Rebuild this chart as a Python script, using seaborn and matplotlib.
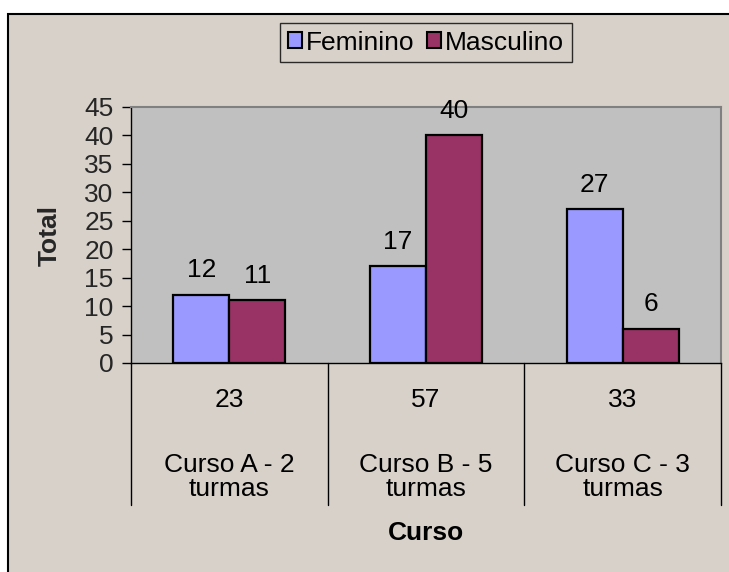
import pandas as pd
import matplotlib.pyplot as plt
import matplotlib.patches as mpatches
import seaborn as sns

cursos = ["Curso A - 2\nturmas", "Curso B - 5\nturmas", "Curso C - 3\nturmas"]
feminino = [12, 17, 27]
masculino = [11, 40, 6]
series = ["Feminino", "Masculino"]
cores = {"Feminino": "#9999FF", "Masculino": "#993366"}

totais = [f + m for f, m in zip(feminino, masculino)]

data = pd.DataFrame({
    "Curso": cursos * 2,
    "Sexo": ["Feminino"] * len(cursos) + ["Masculino"] * len(cursos),
    "Total": feminino + masculino,
})

sns.set_style("ticks")
plt.rcParams['font.family'] = ['Liberation Sans', 'DejaVu Sans']
plt.rcParams['text.color'] = 'black'

fs = 19
fundo = "#D8D1CA"
fig = plt.figure(figsize=(7.29, 5.72), dpi=100, facecolor="white")
fig.add_artist(mpatches.Rectangle((8 / 729, -0.05), 1.0, (1 - 14 / 572) + 0.05,
                                  transform=fig.transFigure, facecolor=fundo,
                                  edgecolor="black", linewidth=1.5, zorder=-1))

ax = fig.add_axes([131 / 729, 1 - 363 / 572, 590 / 729, 256 / 572])
ax.set_facecolor("#C0C0C0")

sns.barplot(data=data, x="Curso", y="Total", hue="Sexo", order=cursos,
            hue_order=series, palette=cores, width=0.57, saturation=1,
            edgecolor="black", linewidth=1.6, ax=ax, legend=False)

for cont in ax.containers:
    ax.bar_label(cont, fmt="%d", padding=9, fontsize=fs)

ax.set_ylim(0, 45)
ax.set_yticks(range(0, 46, 5))
ax.set_xlim(-0.5, len(cursos) - 0.5)
ax.tick_params(axis="y", direction="out", length=6.5, width=1, color="black",
               labelsize=fs, pad=6)
ax.tick_params(axis="x", length=0, labelbottom=False)

for lado in ["left", "bottom"]:
    ax.spines[lado].set_color("black")
    ax.spines[lado].set_linewidth(1.0)
for lado in ["top", "right"]:
    ax.spines[lado].set_color("#808080")
    ax.spines[lado].set_linewidth(1.5)

# tabela de categorias abaixo do eixo
trans = ax.get_xaxis_transform()
for xb in [i - 0.5 for i in range(len(cursos) + 1)]:
    ax.plot([xb, xb], [0, -0.555], transform=trans, color="black",
            linewidth=1.0, clip_on=False)
for i, (nome, tot) in enumerate(zip(cursos, totais)):
    ax.text(i, -0.145, str(tot), transform=trans, ha="center", va="center",
            fontsize=fs)
    ax.text(i, -0.445, nome, transform=trans, ha="center", va="center",
            fontsize=fs, linespacing=1.0)

ax.set_xlabel("")
ax.set_ylabel("Total", fontsize=fs, fontweight="bold")
ax.yaxis.label.set_va("center")
ax.yaxis.set_label_coords(-0.137, 0.5)
ax.text(0.5, -0.664, "Curso", transform=ax.transAxes, ha="center",
        va="center", fontsize=fs, fontweight="bold")

handles = [mpatches.Patch(facecolor=cores[s], edgecolor="black", linewidth=1.5)
           for s in series]
leg = fig.legend(handles, series, loc="center", ncol=2,
                 bbox_to_anchor=(426 / 729, 1 - 42.5 / 572), fontsize=fs,
                 frameon=True, fancybox=False, handlelength=0.55,
                 handleheight=0.55, handletextpad=0.15, columnspacing=0.45,
                 borderpad=0.3, borderaxespad=0)
leg.get_frame().set_edgecolor("black")
leg.get_frame().set_facecolor(fundo)
leg.get_frame().set_linewidth(1.0)

fig.savefig("out.png", dpi=100, facecolor=fig.get_facecolor())
